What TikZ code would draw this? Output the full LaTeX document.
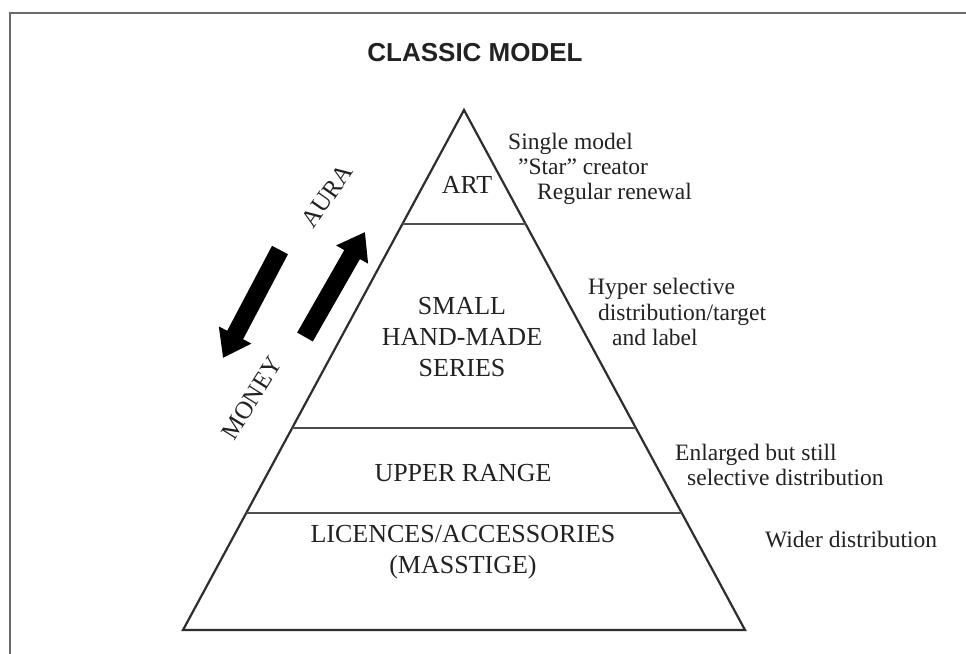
\documentclass[tikz,border=0pt]{standalone}
\usepackage{fontspec}
\setmainfont{Liberation Serif}
\newfontfamily\titlefont{Liberation Sans}
\usetikzlibrary{arrows.meta,calc}
\definecolor{ink}{HTML}{222222}
\definecolor{lineink}{HTML}{2E2E2E}
\definecolor{frameink}{HTML}{6A6A6A}
\begin{document}
\begin{tikzpicture}[x=1pt,y=-1pt,
  framestyle/.style={draw=frameink,line width=2.6pt},
  pyr/.style={draw=lineink,line width=2.2pt,line join=miter},
  tier/.style={draw=lineink!85,line width=2.8pt},
  lab/.style={font=\fontsize{26}{31}\selectfont,text=ink,align=center,inner sep=0pt},
  note/.style={font=\fontsize{23.5}{25.3}\selectfont,text=ink,align=left,inner sep=0pt,anchor=west},
  rot/.style={font=\fontsize{25}{30}\selectfont,text=ink,inner sep=0pt},
  bigarrow/.style={line width=18pt,line cap=butt,-{Triangle[width=35pt,length=26pt]}}
]
\useasboundingbox (0,0) rectangle (966,653);
\fill[white] (0,0) rectangle (966,653);
% frame
\coordinate (fbl) at (10,660);
\coordinate (ftl) at (10,13);
\coordinate (ftr) at (975,13);
\draw[framestyle] (fbl) -- (ftl) -- (ftr);
% title
\node[font=\titlefont\bfseries\fontsize{26}{30}\selectfont,text=ink,inner sep=0pt] (title) at (475,53) {CLASSIC MODEL};
% pyramid
\coordinate (apex) at (464,110);
\coordinate (bl) at (183,630);
\coordinate (br) at (745,630);
\draw[pyr] (apex) -- (bl) -- (br) -- cycle;
\coordinate (l1) at ($(apex)!0.2192!(bl)$);
\coordinate (r1) at ($(apex)!0.2192!(br)$);
\coordinate (l2) at ($(apex)!0.6115!(bl)$);
\coordinate (r2) at ($(apex)!0.6115!(br)$);
\coordinate (l3) at ($(apex)!0.775!(bl)$);
\coordinate (r3) at ($(apex)!0.775!(br)$);
\draw[tier] (l1) -- (r1);
\draw[tier] (l2) -- (r2);
\draw[tier] (l3) -- (r3);
% tier labels
\node[lab] (art) at (467,185) {ART};
\node[lab] (small) at (462,337) {SMALL\\HAND-MADE\\SERIES};
\node[lab] (upper) at (463,473) {UPPER RANGE};
\node[lab] (lic) at (463,552) {LICENCES/ACCESSORIES\\(MASSTIGE)};
% notes
\node[note] (n1) at (508,169) {Single model\\\hspace*{10pt}"Star" creator\\\hspace*{29pt}Regular renewal};
\node[note] (n2) at (588,312) {Hyper selective\\\hspace*{10pt}distribution/target\\\hspace*{24pt}and label};
\node[note] (n3) at (675,465) {Enlarged but still\\\hspace*{12pt}selective distribution};
\node[note] (n4) at (765,540) {Wider distribution};
% arrows
\coordinate (da1) at (280,250);
\coordinate (da2) at (223,358);
\coordinate (ua1) at (305,337);
\coordinate (ua2) at (365,232);
\draw[bigarrow] (da1) -- (da2);
\draw[bigarrow] (ua1) -- (ua2);
\node[rot,rotate=55] (aura) at (327,196) {AURA};
\node[rot,rotate=58] (money) at (252,398) {MONEY};
\end{tikzpicture}
\end{document}
